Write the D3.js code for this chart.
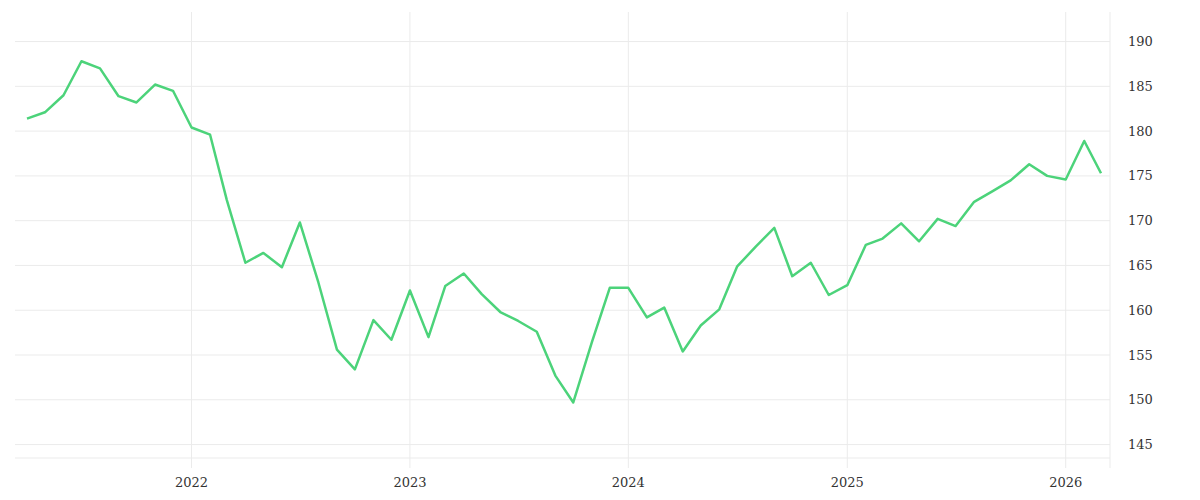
<!DOCTYPE html>
<html>
<head>
<meta charset="utf-8">
<script src="https://cdn.jsdelivr.net/npm/d3@7"></script>
<style>
  body { margin: 0; background: #fff; }
  text { font-family: "DejaVu Serif", serif; font-size: 13px; fill: #333; }
</style>
</head>
<body>
<svg id="chart" width="1200" height="500"></svg>
<script>
// monthly values, Apr 2021 .. Mar 2026
var startMonth = [2021, 3];
var values = [181.4, 182.1, 184.0, 187.8, 187.0, 183.9, 183.2, 185.2, 184.5,
  180.4, 179.6, 172.3, 165.3, 166.4, 164.8, 169.8, 163.1, 155.6, 153.4, 158.9, 156.7,
  162.2, 157.0, 162.7, 164.1, 161.8, 159.8, 158.8, 157.6, 152.7, 149.7, 156.4, 162.5,
  162.5, 159.2, 160.3, 155.4, 158.3, 160.1, 164.9, 167.1, 169.2, 163.8, 165.3, 161.7,
  162.8, 167.3, 168.0, 169.7, 167.7, 170.2, 169.4, 172.1, 173.3, 174.5, 176.3, 175.0,
  174.6, 178.9, 175.3];
var yTicks = [145, 150, 155, 160, 165, 170, 175, 180, 185, 190];
var xTickYears = [2022, 2023, 2024, 2025, 2026];

var data = values.map(function(v, i) {
  return { date: new Date(startMonth[0], startMonth[1] + i, 1), value: v };
});

var svg = d3.select('#chart');
var pLeft = 15, pRight = 1110, pTop = 12, pBottom = 458;

var x = d3.scaleTime()
  .domain([new Date(2021, 3, 1), new Date(2026, 2, 1)])
  .range([27, 1101]);
var y = d3.scaleLinear().domain([143.5, 193.3]).range([pBottom, pTop]);

// horizontal grid
svg.append('g').selectAll('line').data(yTicks).enter().append('line')
  .attr('x1', pLeft).attr('x2', pRight)
  .attr('y1', function(d) { return y(d); }).attr('y2', function(d) { return y(d); })
  .attr('stroke', '#ebebeb');

// vertical grid
svg.append('g').selectAll('line').data(xTickYears).enter().append('line')
  .attr('x1', function(d) { return x(new Date(d, 0, 1)); })
  .attr('x2', function(d) { return x(new Date(d, 0, 1)); })
  .attr('y1', pTop).attr('y2', 468)
  .attr('stroke', '#ebebeb');

// frame lines
svg.append('line').attr('x1', pLeft).attr('x2', pRight).attr('y1', pBottom).attr('y2', pBottom).attr('stroke', '#ebebeb');
svg.append('line').attr('x1', pRight).attr('x2', pRight).attr('y1', pTop).attr('y2', 468).attr('stroke', '#ebebeb');

// y axis labels
svg.append('g').selectAll('text').data(yTicks).enter().append('text')
  .attr('x', 1128).attr('y', function(d) { return y(d); })
  .attr('dy', '0.35em')
  .text(function(d) { return d; });

// x axis labels
svg.append('g').selectAll('text').data(xTickYears).enter().append('text')
  .attr('x', function(d) { return x(new Date(d, 0, 1)); }).attr('y', 487)
  .attr('text-anchor', 'middle')
  .text(function(d) { return d; });

var line = d3.line()
  .x(function(d) { return x(d.date); })
  .y(function(d) { return y(d.value); });

svg.append('path').datum(data)
  .attr('d', line)
  .attr('fill', 'none')
  .attr('stroke', '#4cd37a')
  .attr('stroke-width', 2.5)
  .attr('stroke-linejoin', 'round');
</script>
</body>
</html>
